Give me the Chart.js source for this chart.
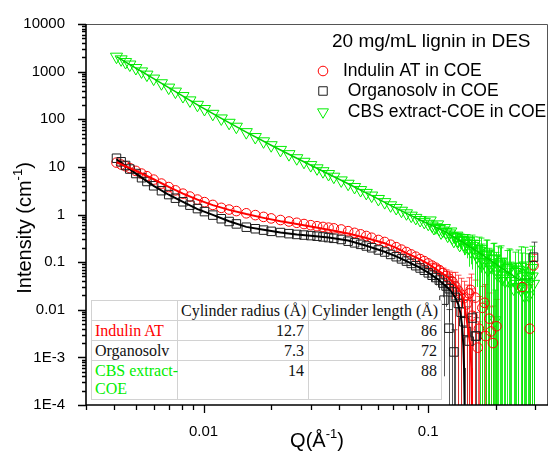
<!DOCTYPE html>
<html>
<head>
<meta charset="utf-8">
<script src="https://cdn.jsdelivr.net/npm/chart.js@4.4.1/dist/chart.umd.min.js"></script>
<style>
  html, body { margin: 0; padding: 0; background: #fff; }
  #wrap { position: relative; width: 558px; height: 457px; }
  #plot { position: absolute; left: 0; top: 0; }
  #fitTable { position: absolute; left: 91px; top: 300px; width: 350px; table-layout: fixed;
    border-collapse: collapse; background: #fff; color: #111;
    font-family: "Liberation Serif", "Times New Roman", serif; font-size: 16px; }
  #fitTable td { border: 1.5px solid #d2d2d2; padding: 1px 4px 0 3px; line-height: 18px;
    vertical-align: top; white-space: pre; overflow: visible; }
  #fitTable td.n { text-align: right; }
</style>
</head>
<body>
<div id="wrap">
  <canvas id="plot" width="558" height="457"></canvas>
  <table id="fitTable"></table>
</div>
<script>
// ===== SANS curves, 20 mg/mL lignin in DES =====

// Q (1/Å) shared by the three measured curves
const qValues = [0.0041,0.0043,0.0045,0.0047,0.0050,0.0053,0.0056,0.0060,0.0065,0.0070,
  0.0075,0.0081,0.0087,0.0094,0.0101,0.011,0.012,0.013,0.014,0.0155,
  0.017,0.0185,0.020,0.022,0.024,0.026,0.028,0.030,0.032,0.034,
  0.036,0.038,0.041,0.044,0.047,0.050,0.053,0.056,0.060,0.064,
  0.068,0.072,0.076,0.080,0.084,0.088,0.092,0.096,0.100,0.104,
  0.108,0.112,0.116,0.120,0.124,0.128,0.132,0.136,0.140,0.144,
  0.148,0.152,0.157,0.162,0.168,0.174,0.180,0.187,0.194,0.201,
  0.209,0.217,0.225,0.234,0.243,0.252,0.262,0.272,0.283,0.294];

const indulin = [12.3,11.2,10.3,9.44,8.24,7.23,6.37,5.40,4.46,3.77,
  3.21,2.74,2.38,2.06,1.82,1.59,1.38,1.27,1.18,1.06,
  0.971,0.891,0.828,0.766,0.714,0.670,0.631,0.597,0.568,0.548,
  0.530,0.512,0.485,0.447,0.412,0.383,0.354,0.325,0.292,0.265,
  0.232,0.206,0.183,0.163,0.145,0.130,0.116,0.105,0.0938,0.0843,
  0.0764,0.0680,0.0589,0.0511,0.0448,0.0387,0.0310,0.0252,0.0208,0.0175,
  0.013,0.022,0.0075,0.018,0.004,0.011,0.0028,0.0065,0.002,0.0045,
  null,null,null,null,null,null,0.03,null,0.004,0.085];

const organosolv = [15.2,12.8,10.7,9.0,7.25,5.92,4.93,4.01,3.16,2.62,
  2.20,1.85,1.57,1.33,1.15,0.971,0.815,0.713,0.634,0.541,
  0.502,0.470,0.443,0.418,0.396,0.381,0.370,0.360,0.350,0.338,
  0.327,0.316,0.299,0.275,0.254,0.236,0.218,0.200,0.180,0.163,
  0.145,0.130,0.117,0.105,0.0940,0.0841,0.0753,0.0675,0.0596,0.0530,
  0.0474,0.0419,0.0363,0.0315,0.0276,0.0237,0.0182,0.0136,0.0089,0.0056,
  0.0035,0.0022,0.0067,0.0028,null,null,null,null,null,null,
  null,null,null,null,null,null,null,null,null,0.127];

const cbs = [2060,1810,1590,1410,1190,1010,865,714,570,462,
  381,307,249,201,164,130,104,84.3,69.7,53.6,
  42.3,34.4,28.5,22.7,18.5,15.2,12.8,10.9,9.33,8.11,
  7.08,6.22,5.20,4.42,3.78,3.26,2.84,2.50,2.12,1.82,
  1.56,1.37,1.20,1.06,0.946,0.849,0.767,0.700,0.638,0.585,
  0.540,0.497,0.460,0.427,0.40,0.33,0.34,0.28,0.29,0.24,
  0.25,0.20,0.22,0.16,0.175,0.12,0.14,0.095,0.115,0.07,
  0.09,0.052,0.075,0.04,0.062,0.03,0.055,0.028,0.06,0.035];

// error bars, given from qValues[errStart] onwards
const errStart = 47;
const indulinErr = [null,null,0.01,0.012,0.014,0.016,0.018,0.02,0.022,0.03,0.028,0.025,0.022,
  0.02,0.025,0.02,0.024,0.015,0.02,0.012,0.016,0.01,0.012,
  null,null,null,null,null,null,0.04,null,0.03,0.06];
const organosolvErr = [0.01,0.012,0.014,0.015,0.016,0.018,0.02,0.022,0.024,0.02,0.015,0.012,0.01,
  0.008,0.005,0.009,0.006,
  null,null,null,null,null,null,null,null,null,null,null,null,null,null,null,0.136];
const cbsErr = [null,null,null,null,null,null,null,0.05,0.06,0.08,0.08,0.1,0.1,
  0.13,0.12,0.15,0.13,0.16,0.12,0.15,0.1,0.13,0.09,
  0.11,0.07,0.1,0.06,0.1,0.05,0.1,0.05,0.12,0.07];

// scattered high-Q points
const indulinXQ = [0.1545,0.166,0.178,0.190];
const indulinXI = [0.026,0.0016,0.014,0.0035];
const indulinXE = [0.03,0.004,0.02,0.008];
const organosolvXQ = [0.1175,0.1236,0.130,0.1637];
const organosolvXI = [0.0159,0.0041,0.0013,0.0028];
const organosolvXE = [0.0155,0.006,0.0025,0.004];
const cbsXQ = [0.102,0.106,0.110,0.114,0.118,0.122,0.126,0.130,0.134,0.138,0.142,0.146,0.150,0.155,
  0.160,0.165,0.170,0.172,0.177,0.183,0.184,0.190,0.197,0.198,0.203,0.205,0.210,0.213,
  0.220,0.229,0.230,0.240,0.246,0.250,0.258,0.260,0.268,0.270,0.278,0.280,0.289,0.290];
const cbsXI = [0.75,0.52,0.62,0.42,0.52,0.36,0.44,0.28,0.36,0.23,0.32,0.20,0.28,0.17,
  0.24,0.13,0.10,0.19,0.10,0.15,0.07,0.08,0.12,0.006,0.055,0.085,0.10,0.045,
  0.04,0.07,0.08,0.028,0.035,0.07,0.08,0.035,0.02,0.085,0.05,0.02,0.075,0.05];
const cbsXE = [null,null,null,null,null,null,null,0.03,0.04,0.04,0.05,0.05,0.07,0.08,
  0.1,0.1,0.12,0.13,0.1,0.14,0.09,0.1,0.13,0.02,0.08,0.13,0.12,0.07,
  0.06,0.12,0.1,0.05,0.06,0.11,0.13,0.06,0.04,0.12,0.1,0.04,0.14,0.08];

// cylinder model fits
const fitQRed = [0.0041,0.005,0.006,0.007,0.0081,0.0094,0.011,0.013,0.0155,0.0185,0.022,0.026,0.030,0.036,
  0.044,0.053,0.064,0.072,0.080,0.090,0.100,0.110,0.120,0.126,0.132,0.138,0.1408,0.1445,0.1475,0.151,0.1541,0.1555,0.1565];
const fitRed = [12.5,8.3,5.5,3.8,2.75,2.05,1.57,1.25,1.02,0.85,0.72,0.63,0.56,0.48,
  0.40,0.32,0.25,0.20,0.155,0.12,0.092,0.068,0.051,0.042,0.033,0.025,0.022,0.014,0.0072,0.0035,0.00164,0.0006,0.00008];
const fitQBlack = [0.0041,0.005,0.006,0.007,0.0081,0.0094,0.011,0.013,0.0155,0.0185,0.022,0.026,0.030,0.036,
  0.044,0.053,0.064,0.072,0.080,0.090,0.100,0.110,0.120,0.126,0.132,0.136,0.139,0.1415,0.1432,0.1443,0.1452];
const fitBlack = [14.5,7.2,4.0,2.6,1.85,1.3,0.98,0.72,0.55,0.48,0.42,0.38,0.36,0.33,
  0.285,0.22,0.165,0.132,0.105,0.080,0.060,0.044,0.031,0.025,0.018,0.013,0.0085,0.0045,0.0018,0.0006,0.00008];
const fitQGreen = [0.0041,0.005,0.006,0.0075,0.0094,0.012,0.0155,0.020,0.026,0.034,0.044,0.056,
  0.068,0.080,0.092,0.104,0.120,0.140,0.162,0.187,0.217,0.252,0.294];
const fitGreen = [2060,1190,714,381,201,104,53.6,28.5,15.2,8.11,4.42,2.50,
  1.56,1.06,0.767,0.585,0.427,0.277,0.179,0.113,0.0692,0.0436,0.0445];

// axes, legend and table text
const yTickValues = [1e-4,1e-3,0.01,0.1,1,10,100,1000,10000];
const yTickLabels = ['1E-4','1E-3','0.01','0.1','1','10','100','1000','10000'];
const xTickValues = [0.01,0.1];
const xTickLabels = ['0.01','0.1'];
const legendTitle = '20 mg/mL lignin in DES';
const legendLabels = ['Indulin AT in COE', ' Organosolv in COE', ' CBS extract-COE in COE'];
const tableHead = ['', 'Cylinder radius (Å)', 'Cylinder length (Å)'];
const tableNames = ['Indulin AT', 'Organosolv', 'CBS extract-\nCOE'];
const tableRadius = ['12.7', '7.3', '14'];
const tableLength = ['86', '72', '88'];

const RED = '#ff0000', BLACK = '#1e1e1e', GREEN = '#00ee00';
const seriesStyles = [
  { color: RED, style: 'circle', radius: 4.8, rot: 0 },
  { color: BLACK, style: 'rect', radius: 6, rot: 0 },
  { color: GREEN, style: 'triangle', radius: 7, rot: 180 }
];
const FONT = '"Liberation Sans", Arial, sans-serif';

function toPoints(vals, errs) {
  const pts = [];
  qValues.forEach((q, i) => {
    if (vals[i] == null) return;
    const e = i >= errStart ? errs[i - errStart] : null;
    pts.push({ x: q, y: vals[i], e: e });
  });
  return pts;
}
function extraPoints(qs, vals, errs) {
  return qs.map((q, i) => ({ x: q, y: vals[i], e: errs[i] }));
}
function linePoints(qs, vals) {
  return qs.map((q, i) => ({ x: q, y: vals[i] }));
}
function markerSet(label, data, s, errColor) {
  return {
    label: label, data: data, errColor: errColor,
    pointStyle: s.style, pointRadius: s.radius, pointRotation: s.rot,
    pointBorderColor: s.color, pointBackgroundColor: 'rgba(0,0,0,0)', pointBorderWidth: 1,
    showLine: false
  };
}
function fitSet(data, color, width) {
  return { data: data, showLine: true, borderColor: color, borderWidth: width, pointRadius: 0, tension: 0 };
}
function isDecade(v) {
  const l = Math.log10(v);
  return Math.abs(l - Math.round(l)) < 1e-6;
}
function isWholeStep(v) {
  const r = v / Math.pow(10, Math.floor(Math.log10(v) + 1e-9));
  return Math.abs(r - Math.round(r)) < 1e-6;
}
function labelFor(v, values, labels) {
  for (let i = 0; i < values.length; i++) {
    if (Math.abs(Math.log10(v) - Math.log10(values[i])) < 1e-6) return labels[i];
  }
  return '';
}

const errorBars = {
  id: 'errorBars',
  beforeDatasetsDraw(chart) {
    const { ctx, chartArea: a, scales: { y } } = chart;
    ctx.save();
    ctx.beginPath();
    ctx.rect(a.left, a.top, a.right - a.left, a.bottom - a.top);
    ctx.clip();
    chart.data.datasets.forEach((ds, di) => {
      if (!ds.errColor) return;
      const meta = chart.getDatasetMeta(di);
      ctx.strokeStyle = ds.errColor;
      ctx.lineWidth = 1;
      ds.data.forEach((p, j) => {
        if (p.e == null) return;
        const el = meta.data[j];
        const top = y.getPixelForValue(p.y + p.e);
        const lo = p.y - p.e;
        const bot = lo > 0 ? Math.min(y.getPixelForValue(lo), a.bottom + 2) : a.bottom + 2;
        const px = Math.round(el.x) + 0.5;
        ctx.beginPath();
        ctx.moveTo(px, top); ctx.lineTo(px, bot);
        ctx.moveTo(px - 3, top); ctx.lineTo(px + 3, top);
        ctx.stroke();
      });
    });
    ctx.restore();
  }
};

function drawTitle(ctx, pre, sup, post, cx, cy, rot) {
  ctx.save();
  ctx.translate(cx, cy);
  ctx.rotate(rot);
  const big = '20px ' + FONT, small = '13px ' + FONT;
  ctx.font = big;
  const w1 = ctx.measureText(pre).width, w3 = ctx.measureText(post).width;
  ctx.font = small;
  const w2 = ctx.measureText(sup).width;
  let x = -(w1 + w2 + w3) / 2;
  ctx.fillStyle = '#000';
  ctx.textBaseline = 'alphabetic';
  ctx.font = big; ctx.fillText(pre, x, 7); x += w1;
  ctx.font = small; ctx.fillText(sup, x, -2); x += w2;
  ctx.font = big; ctx.fillText(post, x, 7);
  ctx.restore();
}

const frame = {
  id: 'frame',
  afterDraw(chart) {
    const { ctx, chartArea: a, scales: { x, y } } = chart;
    ctx.save();
    // top and right border
    ctx.strokeStyle = '#555';
    ctx.lineWidth = 1;
    ctx.beginPath();
    ctx.moveTo(a.left, a.top + 0.5); ctx.lineTo(a.right - 0.5, a.top + 0.5); ctx.lineTo(a.right - 0.5, a.bottom);
    ctx.stroke();
    // axes with outward ticks
    ctx.strokeStyle = '#000';
    ctx.lineWidth = 1.6;
    ctx.beginPath();
    ctx.moveTo(a.left, a.top); ctx.lineTo(a.left, a.bottom); ctx.lineTo(a.right, a.bottom);
    ctx.stroke();
    ctx.lineWidth = 1.3;
    ctx.beginPath();
    x.ticks.forEach(t => {
      if (!isWholeStep(t.value)) return;
      const px = Math.round(x.getPixelForValue(t.value)) + 0.5;
      ctx.moveTo(px, a.bottom); ctx.lineTo(px, a.bottom + (isDecade(t.value) ? 8 : 5));
    });
    y.ticks.forEach(t => {
      if (!isWholeStep(t.value)) return;
      const py = Math.round(y.getPixelForValue(t.value)) + 0.5;
      ctx.moveTo(a.left, py); ctx.lineTo(a.left - (isDecade(t.value) ? 8 : 4), py);
    });
    ctx.stroke();
    ctx.restore();

    drawTitle(ctx, 'Q(Å', '-1', ')', (a.left + a.right) / 2, 440, 0);
    drawTitle(ctx, 'Intensity (cm', '-1', ')', 24, 228, -Math.PI / 2);

    // legend
    ctx.save();
    ctx.textBaseline = 'middle';
    ctx.fillStyle = '#000';
    ctx.font = '19px ' + FONT;
    ctx.fillText(legendTitle, 332, 42);
    ctx.font = '17.5px ' + FONT;
    const rowY = [71, 91, 112];
    const legendRadius = [4.8, 6, 6.3];
    legendLabels.forEach((lab, i) => {
      const s = seriesStyles[i];
      ctx.strokeStyle = s.color;
      ctx.fillStyle = 'rgba(0,0,0,0)';
      ctx.lineWidth = 1;
      Chart.helpers.drawPoint(ctx, { pointStyle: s.style, radius: legendRadius[i], rotation: s.rot, borderWidth: 1 }, 323, rowY[i]);
      ctx.fillStyle = '#000';
      ctx.fillText(lab, 343, rowY[i]);
    });
    ctx.restore();
  }
};

new Chart(document.getElementById('plot'), {
  type: 'scatter',
  data: {
    datasets: [
      fitSet(linePoints(fitQRed, fitRed), '#ff0000', 2),
      fitSet(linePoints(fitQBlack, fitBlack), '#000000', 2),
      fitSet(linePoints(fitQGreen, fitGreen), '#00d400', 1.5),
      markerSet('Organosolv in COE', toPoints(organosolv, organosolvErr), seriesStyles[1], 'rgba(30,30,30,0.75)'),
      markerSet('Organosolv extra', extraPoints(organosolvXQ, organosolvXI, organosolvXE), seriesStyles[1], 'rgba(30,30,30,0.75)'),
      markerSet('Indulin AT in COE', toPoints(indulin, indulinErr), seriesStyles[0], 'rgba(255,30,30,0.75)'),
      markerSet('Indulin extra', extraPoints(indulinXQ, indulinXI, indulinXE), seriesStyles[0], 'rgba(255,30,30,0.75)'),
      markerSet('CBS extract-COE in COE', toPoints(cbs, cbsErr), seriesStyles[2], 'rgba(0,235,0,0.85)'),
      markerSet('CBS extra', extraPoints(cbsXQ, cbsXI, cbsXE), seriesStyles[2], 'rgba(0,235,0,0.85)')
    ]
  },
  options: {
    responsive: false,
    animation: false,
    devicePixelRatio: 1,
    layout: { padding: { top: 24, right: 2, left: 0, bottom: 0 } },
    plugins: { legend: { display: false }, tooltip: { enabled: false } },
    scales: {
      x: {
        type: 'logarithmic', min: 0.003, max: 0.341,
        grid: { display: false }, border: { display: false },
        afterFit: s => { s.height = 52; },
        ticks: {
          autoSkip: false, maxRotation: 0, padding: 10, color: '#000',
          font: { size: 15, family: FONT },
          callback: v => labelFor(v, xTickValues, xTickLabels)
        }
      },
      y: {
        type: 'logarithmic', min: 1e-4, max: 1e4,
        grid: { display: false }, border: { display: false },
        afterFit: s => { s.width = 86; },
        ticks: {
          autoSkip: false, padding: 13, color: '#000',
          font: { size: 15, family: FONT },
          callback: v => labelFor(v, yTickValues, yTickLabels)
        }
      }
    }
  },
  plugins: [errorBars, frame]
});

// inset table
const table = document.getElementById('fitTable');
const colW = [86, 131, 133];
const rowH = [20, 19, 19, 39];
const colgroup = document.createElement('colgroup');
colW.forEach(w => { const c = document.createElement('col'); c.style.width = w + 'px'; colgroup.appendChild(c); });
table.appendChild(colgroup);
const head = document.createElement('tr');
head.style.height = rowH[0] + 'px';
tableHead.forEach(t => { const td = document.createElement('td'); td.textContent = t; head.appendChild(td); });
table.appendChild(head);
tableNames.forEach((name, i) => {
  const tr = document.createElement('tr');
  tr.style.height = rowH[i + 1] + 'px';
  const cells = [name, tableRadius[i], tableLength[i]];
  cells.forEach((t, ci) => {
    const td = document.createElement('td');
    td.textContent = t;
    if (ci === 0) td.style.color = seriesStyles[i].color === BLACK ? '#111' : seriesStyles[i].color;
    else td.className = 'n';
    tr.appendChild(td);
  });
  table.appendChild(tr);
});
</script>
</body>
</html>
